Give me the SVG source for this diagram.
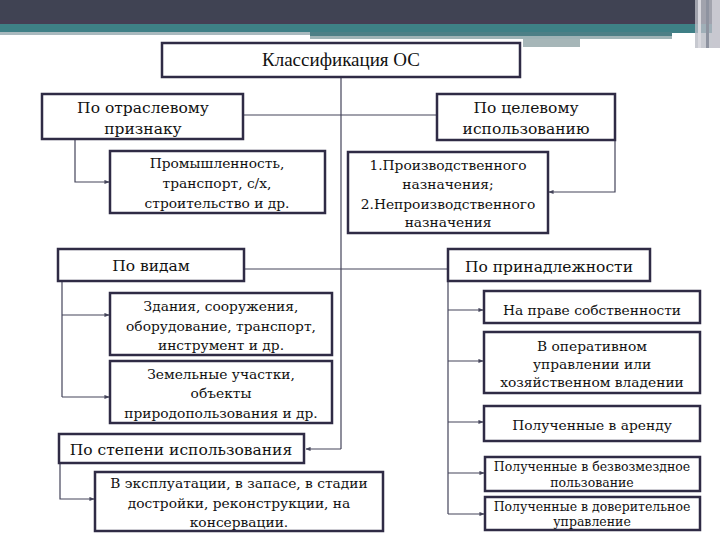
<svg xmlns="http://www.w3.org/2000/svg" width="720" height="540" viewBox="0 0 720 540">
<style>
.box{fill:#ffffff;stroke:#2f2b45;stroke-width:2.5}
.t{font-family:"DejaVu Serif","Liberation Serif",serif;fill:#111;text-anchor:middle}
.l1{font-size:15.5px}
.l2{font-size:13.8px}
.l3{font-size:12.5px}
.title{font-family:"Liberation Serif","DejaVu Serif",serif;font-size:19px;fill:#111;text-anchor:middle}
.c{fill:none;stroke:#44445a;stroke-width:1.2}
.ca{fill:none;stroke:#44445a;stroke-width:1.2;marker-end:url(#arr)}
</style>
<defs>
<marker id="arr" viewBox="0 0 6 6" refX="5.5" refY="3" markerWidth="5" markerHeight="5" markerUnits="userSpaceOnUse" orient="auto">
<path d="M0,0.5 L6,3 L0,5.5 z" fill="#44445a"/>
</marker>
</defs>
<rect width="720" height="540" fill="#ffffff"/>
<g id="header">
<rect x="0" y="0" width="720" height="24" fill="#404353"/>
<rect x="0" y="20" width="720" height="4" fill="#463f55"/>
<rect x="0" y="24" width="720" height="9" fill="#3f7f86"/>
<rect x="0" y="32" width="310" height="3" fill="#a9b9be"/>
<rect x="310" y="32" width="362" height="4" fill="#4d7f86"/>
<rect x="310" y="36" width="362" height="3" fill="#9fb3b6"/>
<rect x="523" y="39" width="57" height="8" fill="#a6b6b8"/>
<rect x="695" y="0" width="25" height="48" fill="#b9bcc4" opacity="0.8"/>
<rect x="698" y="0" width="3" height="48" fill="#d8d8de"/>
<rect x="706" y="0" width="3" height="48" fill="#8e93a0"/>
<rect x="712" y="0" width="8" height="48" fill="#c8c8d0"/>
</g>
<g id="connectors">
<path class="c" d="M341,77 V449"/>
<path class="ca" d="M341,449 H306"/>
<path class="c" d="M243,115 H437"/>
<path class="c" d="M244,269 H448"/>
<path class="ca" d="M75,139 V182 H109"/>
<path class="ca" d="M615,140 V192 H549"/>
<path class="c" d="M62,281 V397"/>
<path class="ca" d="M62,315 H109"/>
<path class="ca" d="M62,397 H109"/>
<path class="c" d="M448,281 V514"/>
<path class="ca" d="M448,310 H483"/>
<path class="ca" d="M448,361 H483"/>
<path class="ca" d="M448,422 H483"/>
<path class="ca" d="M448,473 H484"/>
<path class="ca" d="M448,514 H484"/>
<path class="ca" d="M60,463 V499 H94"/>
</g>
<g id="n0">
<rect class="box" x="162" y="43" width="358" height="34"/>
<text class="title" x="341" y="66">Классификация ОС</text>
</g>
<g id="n1">
<rect class="box" x="42" y="94" width="201" height="45"/>
<text class="t l1" x="143" y="113">По отраслевому</text>
<text class="t l1" x="143" y="134">признаку</text>
</g>
<g id="n2">
<rect class="box" x="110" y="151" width="215" height="62"/>
<text class="t l2" x="217" y="168">Промышленность,</text>
<text class="t l2" x="217" y="188">транспорт, с/х,</text>
<text class="t l2" x="217" y="208">строительство и др.</text>
</g>
<g id="n3">
<rect class="box" x="437" y="94" width="178" height="46"/>
<text class="t l1" x="526" y="113">По целевому</text>
<text class="t l1" x="526" y="134">использованию</text>
</g>
<g id="n4">
<rect class="box" x="348" y="152" width="200" height="81"/>
<text class="t l2" x="448" y="170">1.Производственного</text>
<text class="t l2" x="448" y="189">назначения;</text>
<text class="t l2" x="448" y="209">2.Непроизводственного</text>
<text class="t l2" x="448" y="227">назначения</text>
</g>
<g id="n5">
<rect class="box" x="58" y="249" width="186" height="32"/>
<text class="t l1" x="151" y="271">По видам</text>
</g>
<g id="n6">
<rect class="box" x="110" y="293" width="222" height="62"/>
<text class="t l2" x="221" y="311">Здания, сооружения,</text>
<text class="t l2" x="221" y="331">оборудование, транспорт,</text>
<text class="t l2" x="221" y="350">инструмент и др.</text>
</g>
<g id="n7">
<rect class="box" x="110" y="361" width="222" height="62"/>
<text class="t l2" x="221" y="379">Земельные участки,</text>
<text class="t l2" x="221" y="398">объекты</text>
<text class="t l2" x="221" y="418">природопользования и др.</text>
</g>
<g id="n8">
<rect class="box" x="448" y="249" width="202" height="32"/>
<text class="t l1" x="549" y="272">По принадлежности</text>
</g>
<g id="n9">
<rect class="box" x="484" y="291" width="216" height="32"/>
<text class="t l2" x="592" y="315">На праве собственности</text>
</g>
<g id="n10">
<rect class="box" x="484" y="332" width="216" height="61"/>
<text class="t l2" x="592" y="351">В оперативном</text>
<text class="t l2" x="592" y="369">управлении или</text>
<text class="t l2" x="592" y="387">хозяйственном владении</text>
</g>
<g id="n11">
<rect class="box" x="484" y="406" width="216" height="35"/>
<text class="t l2" x="592" y="430">Полученные в аренду</text>
</g>
<g id="n12">
<rect class="box" x="485" y="457" width="215" height="34"/>
<text class="t l3" x="592" y="471">Полученные в безвозмездное</text>
<text class="t l3" x="592" y="487">пользование</text>
</g>
<g id="n13">
<rect class="box" x="485" y="497" width="215" height="33"/>
<text class="t l3" x="592" y="511">Полученные в доверительное</text>
<text class="t l3" x="592" y="526">управление</text>
</g>
<g id="n14">
<rect class="box" x="59" y="434" width="245" height="29"/>
<text class="t l1" x="181" y="455">По степени использования</text>
</g>
<g id="n15">
<rect class="box" x="95" y="472" width="288" height="59"/>
<text class="t l2" x="239" y="488">В эксплуатации, в запасе, в стадии</text>
<text class="t l2" x="239" y="508">достройки, реконструкции, на</text>
<text class="t l2" x="239" y="527">консервации.</text>
</g>
</svg>
